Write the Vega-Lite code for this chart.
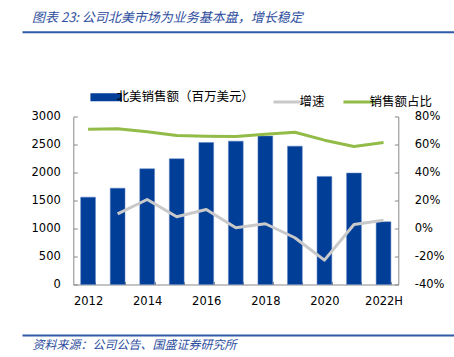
{
  "$schema": "https://vega.github.io/schema/vega-lite/v6.json",
  "width": 432,
  "height": 168,
  "autosize": {"type": "none"},
  "padding": {"left": 22, "top": 116.5, "right": 0, "bottom": 72.5},
  "background": "white",
  "config": {"view": {"stroke": null}, "font": "DejaVu Sans"},
  "title": {
    "text": "图表 23: 公司北美市场为业务基本盘，增长稳定",
    "anchor": "start", "frame": "group", "dx": 10, "dy": 14, "offset": 8,
    "font": "Noto Sans CJK SC", "fontSize": 13, "fontStyle": "italic", "fontWeight": "normal",
    "color": "#2E4E9E", "baseline": "bottom"
  },
  "data": {"values": [
    {"year": "2012", "sales": 1560, "增速": null, "销售额占比": 70.9},
    {"year": "2013", "sales": 1720, "增速": 10.5, "销售额占比": 71.2},
    {"year": "2014", "sales": 2066, "增速": 20.7, "销售额占比": 69.1},
    {"year": "2015", "sales": 2245, "增速": 8.4, "销售额占比": 66.4},
    {"year": "2016", "sales": 2536, "增速": 13.6, "销售额占比": 65.9},
    {"year": "2017", "sales": 2560, "增速": 0.5, "销售额占比": 65.7},
    {"year": "2018", "sales": 2650, "增速": 3.4, "销售额占比": 67.4},
    {"year": "2019", "sales": 2470, "增速": -6.6, "销售额占比": 68.8},
    {"year": "2020", "sales": 1930, "增速": -22.6, "销售额占比": 63.1},
    {"year": "2021", "sales": 1990, "增速": 2.9, "销售额占比": 58.6},
    {"year": "2022H", "sales": 1120, "增速": 5.9, "销售额占比": 61.4}
  ]},
  "layer": [
    {
      "mark": {"type": "bar", "stroke": "#5A7FC0", "strokeWidth": 0.5},
      "encoding": {
        "x": {
          "field": "year", "type": "ordinal", "sort": null,
          "scale": {"range": [51.3, 376.3], "paddingInner": 0.5, "paddingOuter": 0.25},
          "axis": {
            "orient": "bottom", "title": null, "labelAngle": 0,
            "domainColor": "#898989", "tickColor": "#898989", "tickSize": -3, "tickBand": "extent",
            "labelPadding": 14, "labelFontSize": 11.5, "labelColor": "#000000", "labelFont": "DejaVu Sans",
            "labelExpr": "indexof(['2012','2014','2016','2018','2020','2022H'], datum.value) >= 0 ? datum.label : ''"
          }
        },
        "y": {
          "field": "sales", "type": "quantitative",
          "scale": {"domain": [0, 3000], "nice": false},
          "axis": {
            "orient": "left", "offset": -51.3, "title": null, "grid": false, "format": "d",
            "values": [0, 500, 1000, 1500, 2000, 2500, 3000],
            "domainColor": "#898989", "tickColor": "#898989", "tickSize": -4,
            "labelPadding": 17, "labelFontSize": 11.5, "labelColor": "#000000", "labelFont": "DejaVu Sans"
          }
        },
        "color": {
          "datum": "北美销售额（百万美元）",
          "scale": {
            "domain": ["北美销售额（百万美元）", "增速", "销售额占比"],
            "range": ["#003E98", "#C9C9C9", "#92BB48"]
          },
          "legend": {
            "orient": "none", "legendX": 78, "legendY": -26, "direction": "horizontal", "title": null,
            "labelFont": "Noto Sans CJK SC", "labelFontSize": 12.5, "labelColor": "#000000",
            "symbolSize": 1000, "labelOffset": 4, "columnPadding": 12,
            "encode": {
              "symbols": {
                "update": {
                  "shape": {"value": "stroke"},
                  "fill": {"value": "transparent"},
                  "stroke": {"signal": "datum.value === '北美销售额（百万美元）' ? '#003E98' : (datum.value === '增速' ? '#C9C9C9' : '#92BB48')"},
                  "strokeWidth": {"signal": "datum.value === '北美销售额（百万美元）' ? 8 : 3"},
                  "opacity": {"value": 1}
                }
              }
            }
          }
        }
      }
    },
    {
      "transform": [{"fold": ["增速", "销售额占比"], "as": ["series", "pct"]}],
      "mark": {"type": "line", "strokeWidth": 3, "strokeJoin": "round"},
      "encoding": {
        "x": {
          "field": "year", "type": "ordinal", "sort": null,
          "scale": {"range": [51.3, 376.3], "paddingInner": 0.5, "paddingOuter": 0.25},
          "axis": null
        },
        "y": {
          "field": "pct", "type": "quantitative",
          "scale": {"domain": [-40, 80], "nice": false},
          "axis": {
            "orient": "right", "offset": -55.7, "title": null, "grid": false,
            "values": [-40, -20, 0, 20, 40, 60, 80],
            "labelExpr": "datum.value + '%'",
            "domainColor": "#898989", "tickColor": "#898989", "tickSize": -4,
            "labelPadding": 20, "labelFontSize": 11.5, "labelColor": "#000000", "labelFont": "DejaVu Sans"
          }
        },
        "color": {
          "field": "series", "type": "nominal",
          "legend": {
            "orient": "none", "legendX": 78, "legendY": -26, "direction": "horizontal", "title": null,
            "labelFont": "Noto Sans CJK SC", "labelFontSize": 12.5, "labelColor": "#000000",
            "symbolSize": 1000, "labelOffset": 4, "columnPadding": 12,
            "encode": {
              "symbols": {
                "update": {
                  "shape": {"value": "stroke"},
                  "fill": {"value": "transparent"},
                  "stroke": {"signal": "datum.value === '北美销售额（百万美元）' ? '#003E98' : (datum.value === '增速' ? '#C9C9C9' : '#92BB48')"},
                  "strokeWidth": {"signal": "datum.value === '北美销售额（百万美元）' ? 8 : 3"},
                  "opacity": {"value": 1}
                }
              }
            }
          }
        }
      }
    },
    {
      "mark": {"type": "rule", "strokeWidth": 0, "opacity": 0},
      "encoding": {
        "x": {
          "field": "year", "type": "ordinal", "sort": null,
          "axis": {
            "orient": "top", "offset": 84.8, "title": null, "labels": false, "ticks": false,
            "domainColor": "#2F5AA8", "domainWidth": 2
          }
        }
      }
    },
    {
      "mark": {"type": "rule", "strokeWidth": 0, "opacity": 0},
      "encoding": {
        "x": {
          "field": "year", "type": "ordinal", "sort": null,
          "axis": {
            "orient": "bottom", "offset": 50.5, "labels": false, "ticks": false,
            "domainColor": "#2F5AA8", "domainWidth": 2,
            "title": "资料来源：公司公告、国盛证券研究所",
            "titleX": 10, "titleY": 9, "titleAlign": "left", "titleAnchor": null, "titleBaseline": "middle",
            "titleFont": "Noto Sans CJK SC", "titleFontSize": 12, "titleFontStyle": "italic", "titleFontWeight": "normal",
            "titleColor": "#2E4E9E"
          }
        }
      }
    }
  ],
  "resolve": {
    "scale": {"x": "independent", "y": "independent"},
    "axis": {"x": "independent", "y": "independent"}
  }
}
